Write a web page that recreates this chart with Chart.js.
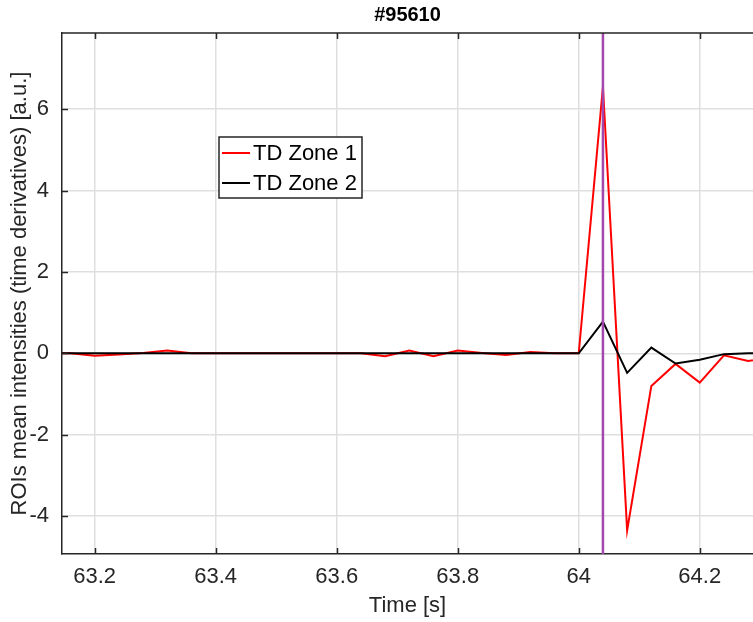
<!DOCTYPE html>
<html>
<head>
<meta charset="utf-8">
<script src="https://cdn.jsdelivr.net/npm/chart.js@4.4.1/dist/chart.umd.min.js"></script>
<style>
  html, body { margin: 0; padding: 0; background: #fff; }
  #wrap { width: 753px; height: 622px; }
</style>
</head>
<body>
<div id="wrap"><canvas id="chart" width="753" height="622"></canvas></div>
<script>
// time axis [s]
const times = [63.12, 63.16, 63.20, 63.24, 63.28, 63.32, 63.36, 63.40, 63.44, 63.48,
  63.52, 63.56, 63.60, 63.64, 63.68, 63.72, 63.76, 63.80, 63.84, 63.88,
  63.92, 63.96, 64.00, 64.04, 64.08, 64.12, 64.16, 64.20, 64.24, 64.28, 64.32];
// TD Zone 1 (red)
const zone1 = [0, 0, -0.06, -0.03, 0.01, 0.07, 0, 0, 0, 0,
  0, 0, 0, 0, -0.07, 0.07, -0.07, 0.07, 0.01, -0.04,
  0.03, 0, 0, 6.55, -4.35, -0.80, -0.26, -0.72, -0.05, -0.19, -0.10];
// TD Zone 2 (black)
const zone2 = [0, 0, 0, 0, 0, 0, 0, 0, 0, 0,
  0, 0, 0, 0, 0, 0, 0, 0, 0, 0,
  0, 0, 0, 0.78, -0.48, 0.14, -0.25, -0.16, -0.02, 0, 0];
const cursorTime = 64.04;

const xTicks = [63.2, 63.4, 63.6, 63.8, 64, 64.2];
const yTicks = [-4, -2, 0, 2, 4, 6];
const xMin = 63.146, xMax = 64.288;
const yMin = -4.93, yMax = 7.87;

const FONT = "'Liberation Sans', Arial, Helvetica, sans-serif";
const AXIS_COLOR = "#262626";

// MATLAB-style box: top border + inward ticks + legend
const matlabAxes = {
  id: "matlabAxes",
  afterDraw(chart) {
    const ctx = chart.ctx;
    const a = chart.chartArea;
    const xs = chart.scales.x, ys = chart.scales.y;
    ctx.save();
    ctx.strokeStyle = AXIS_COLOR;
    ctx.lineWidth = 1.5;
    ctx.beginPath();
    ctx.moveTo(a.left, a.top);
    ctx.lineTo(a.right, a.top);
    xTicks.forEach((v) => {
      const px = Math.round(xs.getPixelForValue(v)) + 0.5;
      ctx.moveTo(px, a.bottom);
      ctx.lineTo(px, a.bottom - 6);
      ctx.moveTo(px, a.top);
      ctx.lineTo(px, a.top + 6);
    });
    yTicks.forEach((v) => {
      const py = Math.round(ys.getPixelForValue(v)) + 0.5;
      ctx.moveTo(a.left, py);
      ctx.lineTo(a.left + 6, py);
    });
    ctx.stroke();

    // legend box
    const lx = 219, ly = 137, lw = 143, lh = 61;
    ctx.fillStyle = "#ffffff";
    ctx.fillRect(lx, ly, lw, lh);
    ctx.strokeStyle = AXIS_COLOR;
    ctx.lineWidth = 1.5;
    ctx.strokeRect(lx, ly, lw, lh);
    const entries = [chart.data.datasets[0], chart.data.datasets[1]];
    ctx.font = "22px " + FONT;
    ctx.textBaseline = "middle";
    ctx.textAlign = "left";
    entries.forEach((ds, i) => {
      const cy = ly + 16 + i * 30;
      ctx.strokeStyle = ds.borderColor;
      ctx.lineWidth = 2;
      ctx.beginPath();
      ctx.moveTo(lx + 3, cy);
      ctx.lineTo(lx + 31, cy);
      ctx.stroke();
      ctx.fillStyle = "#000000";
      ctx.fillText(ds.label, lx + 34, cy + 1);
    });
    ctx.restore();
  },
};

const ctx = document.getElementById("chart").getContext("2d");
new Chart(ctx, {
  type: "line",
  data: {
    datasets: [
      {
        label: "TD Zone 1",
        data: times.map((t, i) => ({ x: t, y: zone1[i] })),
        borderColor: "#ff0000",
        borderWidth: 2,
        pointRadius: 0,
        tension: 0,
        fill: false,
        order: 2,
      },
      {
        label: "TD Zone 2",
        data: times.map((t, i) => ({ x: t, y: zone2[i] })),
        borderColor: "#000000",
        borderWidth: 2,
        pointRadius: 0,
        tension: 0,
        fill: false,
        order: 1,
      },
      {
        label: "cursor",
        data: [{ x: cursorTime, y: yMin }, { x: cursorTime, y: yMax }],
        borderColor: "#a347ad",
        borderWidth: 2.5,
        pointRadius: 0,
        fill: false,
        order: 0,
      },
    ],
  },
  options: {
    responsive: false,
    animation: false,
    layout: { padding: 0 },
    plugins: {
      legend: { display: false },
      tooltip: { enabled: false },
      title: {
        display: true,
        text: "#95610",
        fullSize: false,
        color: "#000000",
        font: { family: FONT, size: 20, weight: "bold", lineHeight: 1.2 },
        padding: { top: 3, bottom: 6 },
      },
    },
    scales: {
      x: {
        type: "linear",
        min: xMin,
        max: xMax,
        afterBuildTicks: (scale) => {
          scale.ticks = xTicks.map((v) => ({ value: v }));
        },
        afterFit: (scale) => {
          scale.height = 68;
        },
        ticks: {
          color: AXIS_COLOR,
          font: { family: FONT, size: 22, lineHeight: 1.2 },
          padding: 10,
          maxRotation: 0,
          autoSkip: false,
          callback: (v) => String(Math.round(v * 10) / 10),
        },
        grid: { color: "#dfdfdf", lineWidth: 1.5, drawTicks: false },
        border: { color: AXIS_COLOR, width: 1.5 },
        title: {
          display: true,
          text: "Time [s]",
          color: AXIS_COLOR,
          font: { family: FONT, size: 22, lineHeight: 1.2 },
          padding: { top: 0, bottom: 3 },
        },
      },
      y: {
        type: "linear",
        min: yMin,
        max: yMax,
        afterBuildTicks: (scale) => {
          scale.ticks = yTicks.map((v) => ({ value: v }));
        },
        afterFit: (scale) => {
          scale.width = 62;
        },
        ticks: {
          color: AXIS_COLOR,
          font: { family: FONT, size: 22, lineHeight: 1.2 },
          padding: 13,
          autoSkip: false,
        },
        grid: { color: "#dfdfdf", lineWidth: 1.5, drawTicks: false },
        border: { color: AXIS_COLOR, width: 1.5 },
        title: {
          display: true,
          text: "ROIs mean intensities (time derivatives) [a.u.]",
          color: AXIS_COLOR,
          font: { family: FONT, size: 22, lineHeight: 1.2 },
          padding: { top: 7, bottom: 0 },
        },
      },
    },
  },
  plugins: [matlabAxes],
});
</script>
</body>
</html>
